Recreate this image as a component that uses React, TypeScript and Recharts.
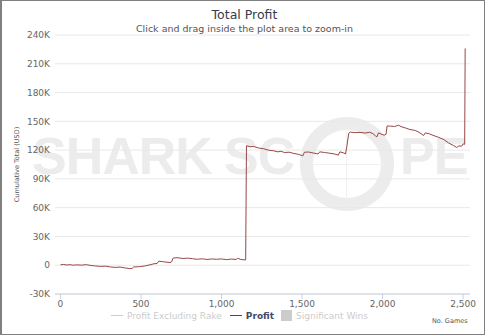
import React from 'react';
import { LineChart, Line, XAxis, YAxis, CartesianGrid } from 'recharts';

// games played and cumulative profit (USD)
const games = [
  0, 20, 40, 60, 80, 100, 130, 160, 190, 220, 250, 280, 310, 340, 370, 400, 430, 445, 455, 490,
  520, 550, 580, 600, 610, 640, 680, 690, 700, 730, 760, 790, 820, 850, 880, 910, 940, 970, 1000, 1030,
  1060, 1090, 1100, 1120, 1150, 1155, 1180, 1200, 1230, 1260, 1290, 1320, 1350, 1370, 1390, 1420, 1450, 1480, 1505, 1515,
  1540, 1570, 1600, 1610, 1640, 1670, 1700, 1725, 1735, 1760, 1770, 1778, 1790, 1800, 1830, 1860, 1890, 1920, 1940, 1955,
  1965, 1975, 1990, 2010, 2022, 2028, 2050, 2075, 2100, 2115, 2140, 2170, 2200, 2220, 2240, 2255, 2265, 2290, 2320, 2350,
  2380, 2410, 2440, 2460, 2475, 2490, 2500, 2510, 2513,
];
const profit = [
  500, 800, 200, 600, 0, 400, 100, 600, -300, -800, -1200, -1000, -1800, -2300, -1900, -2800, -3500, -3300, -1800, -1500,
  -900, 200, 1500, 1800, 4200, 3600, 2800, 3500, 7500, 7800, 7000, 7400, 6800, 6200, 6700, 6000, 6500, 6200, 6600, 5800,
  6400, 6000, 7200, 6000, 5500, 124500, 123500, 123800, 122200, 121500, 120000, 119400, 118200, 118800, 117500, 117800, 116500, 115500, 114000, 117800,
  118000, 117000, 116000, 118200, 117500, 116800, 116000, 114800, 118200, 117000, 116000, 123500, 137500, 138800, 138200, 138500, 137800, 138600, 137200, 135000,
  133800, 138000, 136800, 135500, 136500, 145200, 145000, 144600, 146000, 144500, 143200, 141500, 140600, 139200, 137000, 135200, 138000, 137000, 135000, 133200,
  131000, 127500, 124800, 122800, 124500, 124000, 126500, 126000, 226000,
];
const xTicks = [0, 500, 1000, 1500, 2000, 2500];
const yTicks = [-30000, 0, 30000, 60000, 90000, 120000, 150000, 180000, 210000, 240000];

const data = games.map((g, i) => ({ games: g, profit: profit[i] }));

const font = '"DejaVu Sans", Verdana, sans-serif';
const kFmt = (v: number) => (v === 0 ? '0' : `${v / 1000}K`);
const commaFmt = (v: number) => v.toLocaleString('en-US');

const Watermark = () => (
  <div style={{ position: 'absolute', left: 0, top: 0, width: 485, height: 335, fontFamily: '"Liberation Sans", Arial, sans-serif', fontWeight: 'bold', color: '#ececec' }}>
    <div style={{ position: 'absolute', left: 30, top: 125, fontSize: 52, lineHeight: '60px', letterSpacing: -1 }}>SHARK</div>
    <div style={{ position: 'absolute', left: 222, top: 125, fontSize: 52, lineHeight: '60px', letterSpacing: -1 }}>SC</div>
    <div style={{ position: 'absolute', left: 298, top: 116, width: 94, height: 94, boxSizing: 'border-box', borderRadius: '50%', border: '13px solid #ececec' }} />
    <div style={{ position: 'absolute', left: 344, top: 128, width: 1, height: 72, background: '#f1f1f1' }} />
    <div style={{ position: 'absolute', left: 310, top: 163, width: 72, height: 1, background: '#f1f1f1' }} />
    <div style={{ position: 'absolute', left: 398, top: 125, fontSize: 52, lineHeight: '60px', letterSpacing: -1 }}>PE</div>
  </div>
);

const LegendRow = () => (
  <div style={{ position: 'absolute', left: 0, top: 309, width: 485, display: 'flex', justifyContent: 'center', alignItems: 'center', fontFamily: font, fontSize: 9, whiteSpace: 'nowrap' }}>
    <div style={{ marginLeft: -10, display: 'flex', alignItems: 'center' }}>
      <span style={{ display: 'inline-block', width: 12, height: 1, background: '#cccccc', marginRight: 4 }} />
      <span style={{ color: '#cccccc' }}>Profit Excluding Rake</span>
      <span style={{ display: 'inline-block', width: 12, height: 1, background: '#3e4a66', margin: '0 4px 0 8px' }} />
      <span style={{ color: '#3e4a66', fontWeight: 'bold' }}>Profit</span>
      <span style={{ display: 'inline-block', width: 11, height: 11, background: '#cccccc', margin: '0 4px 0 7px' }} />
      <span style={{ color: '#cccccc' }}>Significant Wins</span>
    </div>
  </div>
);

export default function App() {
  return (
    <div style={{ position: 'absolute', left: 0, top: 0, width: 485, height: 335, background: '#fff', border: '1px solid #808080', borderLeftWidth: 2, boxSizing: 'border-box', overflow: 'hidden' }}>
      <Watermark />
      <div style={{ position: 'absolute', left: 0, top: 6, width: 485, textAlign: 'center', fontFamily: font, fontSize: 12.5, color: '#333d4d' }}>Total Profit</div>
      <div style={{ position: 'absolute', left: 0, top: 22, width: 485, textAlign: 'center', fontFamily: font, fontSize: 9.5, color: '#555555' }}>Click and drag inside the plot area to zoom-in</div>
      <div style={{ position: 'absolute', left: -2, top: -1 }}>
        <LineChart width={485} height={335} data={data} margin={{ top: 35, right: 15, bottom: 21, left: 0 }}>
          <CartesianGrid vertical={false} stroke="#e8e8e8" />
          <XAxis
            dataKey="games"
            type="number"
            domain={[-34, 2543]}
            ticks={xTicks}
            tickFormatter={commaFmt}
            height={20}
            stroke="#c8d0de"
            tickSize={5}
            tickMargin={2}
            tick={{ fill: '#666', fontSize: 9, fontFamily: font }}
            allowDataOverflow
          />
          <YAxis
            type="number"
            domain={[-30000, 240000]}
            ticks={yTicks}
            tickFormatter={kFmt}
            width={55}
            axisLine={false}
            tickLine={false}
            tickSize={0}
            tickMargin={5}
            tick={{ fill: '#666', fontSize: 9, fontFamily: font }}
            label={{ value: 'Cumulative Total (USD)', angle: -90, position: 'insideLeft', offset: 17, style: { fill: '#555', fontSize: 6.5, fontFamily: font, textAnchor: 'middle' } }}
          />
          <Line type="linear" dataKey="profit" stroke="#984848" strokeWidth={1} dot={false} isAnimationActive={false} />
        </LineChart>
      </div>
      <LegendRow />
      <div style={{ position: 'absolute', left: 430, top: 316, fontFamily: font, fontSize: 6.5, color: '#555' }}>No. Games</div>
    </div>
  );
}
